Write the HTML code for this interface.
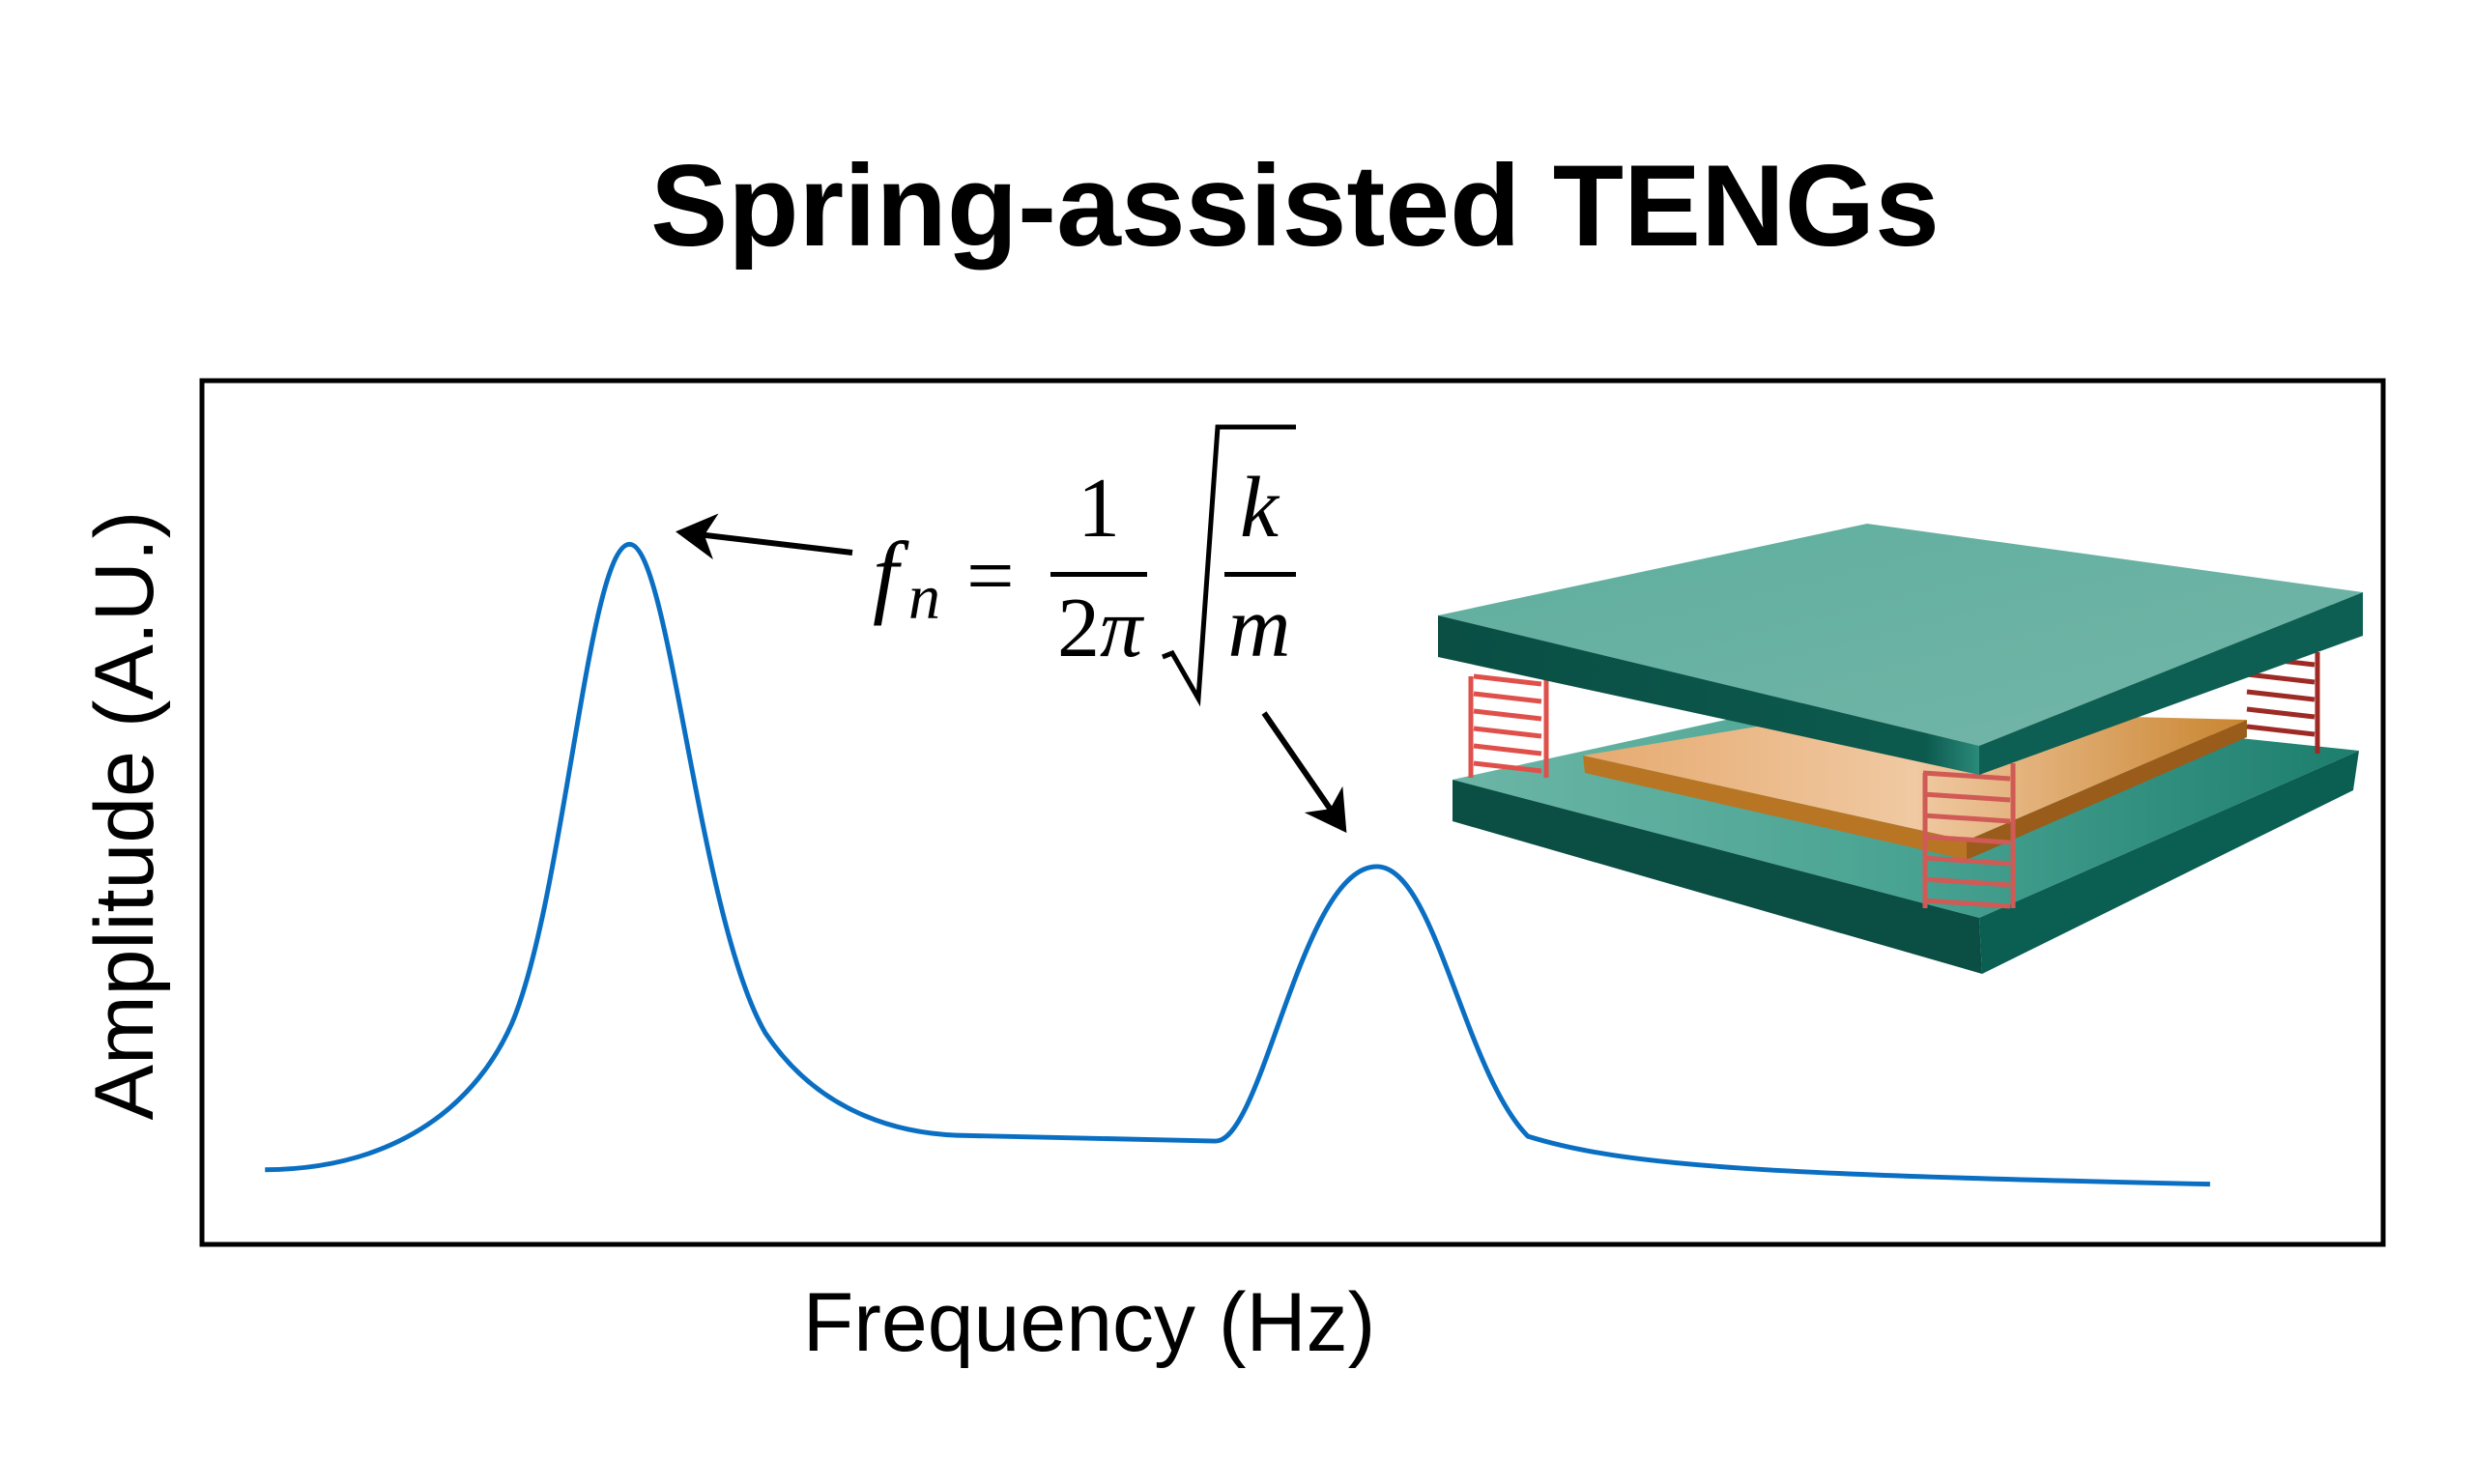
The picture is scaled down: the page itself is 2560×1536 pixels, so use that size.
<!DOCTYPE html>
<html><head><meta charset="utf-8"><style>
html,body{margin:0;padding:0;background:#fff;}
svg{display:block}
</style></head><body>
<svg width="2560" height="1536" viewBox="0 0 2560 1536" xmlns="http://www.w3.org/2000/svg">
<defs>
<marker id="ah" markerWidth="8" markerHeight="8" refX="6" refY="4" orient="auto" markerUnits="strokeWidth">
<path d="M0,0 L7,4 L0,8 L2,4 Z" fill="#000"/></marker>
<linearGradient id="topf" x1="0" y1="0" x2="1" y2="1"><stop offset="0" stop-color="#5fae9e"/><stop offset="1" stop-color="#74b6a9"/></linearGradient>
<linearGradient id="edgeL" x1="0" y1="0" x2="1" y2="0"><stop offset="0" stop-color="#0a4e44"/><stop offset="0.9" stop-color="#0c5a4e"/><stop offset="1" stop-color="#2a8a7a"/></linearGradient>
<linearGradient id="bot" x1="0" y1="0" x2="1" y2="0"><stop offset="0" stop-color="#6cb6a6"/><stop offset="0.5" stop-color="#49a392"/><stop offset="1" stop-color="#1d7e6e"/></linearGradient>
<linearGradient id="cu" x1="0" y1="0" x2="1" y2="0"><stop offset="0" stop-color="#e6aa70"/><stop offset="0.5" stop-color="#f0c9a2"/><stop offset="1" stop-color="#c98530"/></linearGradient>
</defs>
<text x="1340" y="254" text-anchor="middle" font-family="Liberation Sans, sans-serif" font-weight="bold" font-size="120" fill="#000">Spring-assisted TENGs</text>
<rect x="209" y="394" width="2257" height="894" fill="none" stroke="#000" stroke-width="5"/>
<g transform="scale(0.99)">
<path d="M277,1223 C420,1222 500,1150 535,1070 C590,940 615,570 658,569 C700,569 730,960 800,1080 C860,1170 950,1185 1000,1187 L1270,1193 C1320,1195 1360,906 1439,906 C1500,906 1530,1120 1597,1188 C1700,1220 1850,1228 2310,1238" fill="none" stroke="#0a6fc2" stroke-width="5"/>
</g>
<line x1="882" y1="572" x2="705" y2="551" stroke="#000" stroke-width="6" marker-end="url(#ah)"/>
<line x1="1308" y1="738" x2="1390" y2="857" stroke="#000" stroke-width="6" marker-end="url(#ah)"/>
<g font-family="Liberation Serif, DejaVu Serif, serif" fill="#000">
<text x="903" y="627" font-style="italic" font-size="96">f</text>
<text x="940" y="640" font-style="italic" font-size="66">n</text>
<text x="1000" y="625" font-size="88">=</text>
<text x="1137" y="555" text-anchor="middle" font-size="88">1</text>
<rect x="1087" y="592" width="100" height="5"/>
<text x="1138" y="679" text-anchor="middle" font-size="88">2<tspan font-style="italic">π</tspan></text>
<text x="1303" y="555" text-anchor="middle" font-style="italic" font-size="90">k</text>
<rect x="1267" y="592" width="74" height="5"/>
<text x="1303" y="679" text-anchor="middle" font-style="italic" font-size="90">m</text>
</g>
<path d="M1203,680 L1213,676 L1240,723 L1260,442 L1341,442" fill="none" stroke="#000" stroke-width="5"/>
<text x="1127" y="1398" text-anchor="middle" font-family="Liberation Sans, sans-serif" font-size="86" fill="#000">Frequency (Hz)</text>
<text transform="translate(158,844) rotate(-90)" text-anchor="middle" font-family="Liberation Sans, sans-serif" font-size="86" fill="#000">Amplitude (A.U.)</text>
<!-- device -->
<polygon points="1503,807 1900,720 2441,777 2048,950" fill="url(#bot)"/>
<polygon points="1503,807 2048,950 2051,1008 1503,850" fill="#0a4e44"/>
<polygon points="2048,950 2441,777 2435,818 2051,1008" fill="#0b5e52"/>
<polygon points="1638,782 1920,735 2325,745 2035,870" fill="url(#cu)"/>
<polygon points="1638,782 2035,870 2035,890 1640,800" fill="#b87524"/>
<polygon points="2035,870 2325,745 2325,763 2035,890" fill="#9a5c1a"/>
<g fill="none" stroke="#e0504a" stroke-width="5">
<path d="M1525,700 l70,8 M1525,718 l70,8 M1525,736 l70,8 M1525,754 l70,8 M1525,772 l70,8 M1525,790 l70,8 M1600,700 l0,105 M1522,700 l0,105"/>
<path d="M2325,680 l70,8 M2325,698 l70,8 M2325,716 l70,8 M2325,734 l70,8 M2325,752 l70,8 M2398,675 l0,105" stroke="#9e2a25"/>
<path d="M1990,800 l90,6 M1990,822 l90,6 M1990,844 l90,6 M1990,866 l90,6 M1990,888 l90,6 M1990,910 l90,6 M1990,932 l90,6 M2083,790 l0,150 M1992,800 l0,140" stroke="#d05a55"/>
</g>
<polygon points="1488,637 1932,542 2445,613 2048,772" fill="url(#topf)"/>
<polygon points="1488,637 2048,772 2048,802 1488,680" fill="url(#edgeL)"/>
<polygon points="2048,772 2445,613 2445,658 2048,802" fill="#0e5f53"/>
</svg>
</body></html>
